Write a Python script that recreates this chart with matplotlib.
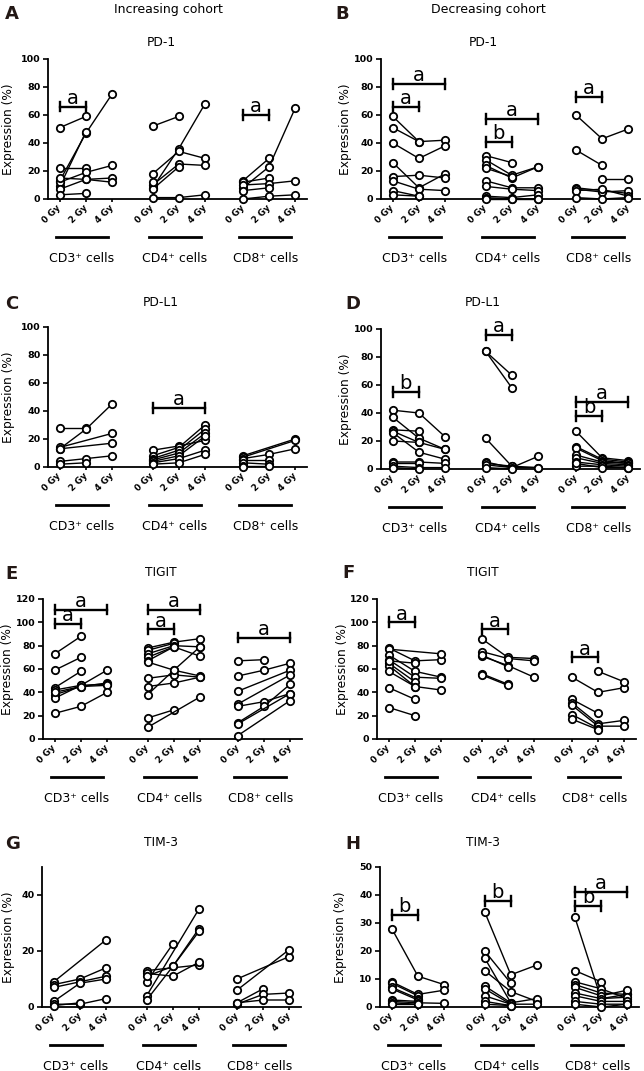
import numpy as np
import matplotlib
matplotlib.use("Agg")
import matplotlib.pyplot as plt

NA = np.nan

doses = ["0 Gy", "2 Gy", "4 Gy"]
cell_types = ["CD3⁺ cells", "CD4⁺ cells", "CD8⁺ cells"]
cohorts = ["Increasing cohort", "Decreasing cohort"]

# each row = one patient: expression at 0, 2, 4 Gy (NA = not shown)
# A  PD-1, increasing
pd1_inc_cd3 = [[51, 59, NA], [13, 47, 75], [9, 48, NA], [22, 22, NA], [12, 19, 24],
               [15, 14, 15], [7, 14, 12], [3, 4, NA]]
pd1_inc_cd4 = [[52, 59, NA], [8, 36, 68], [18, 34, 29], [10, 25, 24], [7, 23, NA],
               [12, NA, NA], [1, 1, 3]]
pd1_inc_cd8 = [[13, 29, NA], [8, 23, 65], [12, 15, NA], [10, 11, 13], [6, 8, NA], [0, 2, 3]]
# B  PD-1, decreasing
pd1_dec_cd3 = [[59, 41, 42], [51, 41, NA], [40, 29, 38], [26, 8, 18], [16, 17, 15],
               [13, 7, 6], [6, 2, NA], [3, 2, NA]]
pd1_dec_cd4 = [[31, 26, NA], [28, 17, 23], [24, 15, 23], [22, 16, NA], [13, 8, 8],
               [9, 7, 6], [2, 1, 3], [1, 0, 0], [0, 0, 0]]
pd1_dec_cd8 = [[60, 43, 50], [35, 24, NA], [NA, 14, 14], [8, 6, 4], [7, 5, 6],
               [6, 7, 2], [1, 0, 1]]
# C  PD-L1, increasing
pdl1_inc_cd3 = [[28, 28, NA], [13, 27, 45], [14, NA, 24], [13, NA, 17], [4, 6, 8], [2, 3, NA]]
pdl1_inc_cd4 = [[12, 15, 19], [8, 14, 30], [6, 12, 27], [5, 10, 24], [4, 8, 22],
                [3, 6, 12], [2, 3, 9]]
pdl1_inc_cd8 = [[8, NA, 20], [7, NA, 19], [6, 9, 13], [5, 5, NA], [3, 2, NA],
                [1, 1, NA], [0, NA, NA]]
# D  PD-L1, decreasing
pdl1_dec_cd3 = [[42, 40, 23], [37, 22, 14], [28, 27, NA], [27, 19, 14], [20, 19, NA],
                [26, 12, 7], [5, 5, 4], [4, 4, NA], [2, 1, 1], [1, 0, NA]]
pdl1_dec_cd4 = [[84, 67, NA], [84, 58, NA], [22, 2, NA], [5, 1, 9], [4, 2, 1],
                [3, 1, 1], [1, 0, NA]]
pdl1_dec_cd8 = [[27, 8, 6], [16, 7, 5], [15, 6, 4], [10, 5, 4], [8, 4, 3],
                [5, 3, 2], [2, 2, 1], [4, 1, 1]]
# E  TIGIT, increasing
tigit_inc_cd3 = [[73, 88, NA], [59, 70, NA], [44, 58, NA], [42, 46, 59], [38, 45, 48],
                 [35, 46, 47], [40, 45, 46], [22, 28, 40]]
tigit_inc_cd4 = [[78, 83, 86], [76, 82, NA], [73, 80, 79], [70, 79, NA], [67, 79, 71],
                 [66, 59, 54], [52, 55, 53], [45, 48, 53], [38, 59, 79], [18, 25, NA],
                 [10, NA, 36]]
tigit_inc_cd8 = [[67, 68, NA], [54, 59, 65], [41, NA, 59], [30, NA, 55], [28, 32, 39],
                 [14, 28, 47], [13, NA, 39], [3, NA, 33]]
# F  TIGIT, decreasing
tigit_dec_cd3 = [[78, 67, 68], [77, NA, 73], [72, 58, 53], [68, 53, 52], [65, 49, NA],
                 [63, 45, NA], [58, 45, 42], [44, 34, NA], [27, 20, NA], [67, 65, NA]]
tigit_dec_cd4 = [[86, 70, 69], [75, 69, 67], [71, 63, 53], [72, 62, NA], [56, 47, NA],
                 [55, 46, NA]]
tigit_dec_cd8 = [[53, 40, 44], [NA, 58, 49], [34, 22, NA], [31, 13, 16], [29, 11, 11],
                 [21, 9, NA], [17, 8, NA]]
# G  TIM-3, increasing
tim3_inc_cd3 = [[9, NA, 24], [8, 10, 14], [7, 9, 11], [2, 8.5, 10], [1, 1, 3], [0.5, 1.5, NA]]
tim3_inc_cd4 = [[13, NA, 15], [9, 22.5, NA], [4, NA, 35], [2.5, 14.5, 28], [12, 11, 16],
                [11, 14.5, 27]]
tim3_inc_cd8 = [[10, NA, 18], [6, NA, 20.5], [1.5, 6.5, NA], [1, 4.5, 5], [1.5, 2.5, 2.5]]
# H  TIM-3, decreasing
tim3_dec_cd3 = [[28, 11, 8], [9, 4.5, 6], [8.5, 4, NA], [7, 3, NA], [6.5, 2.5, NA],
                [2.5, 2, NA], [2, 1.5, 1.3], [1.5, 1, NA], [1, 1, NA]]
tim3_dec_cd4 = [[34, 11.5, 15], [20, 8.5, NA], [17.5, 1.5, NA], [13, 5.5, 2], [7.5, 1.5, 3],
                [6.5, 1, NA], [4, 1, 1], [2, 0.5, NA], [1, 0.5, NA]]
tim3_dec_cd8 = [[32, 3, 4.5], [13, 9, NA], [9, 6.5, 3], [8, 5, 4.5], [7, 4, 6],
                [5, 3, 3.5], [4, 2, 2], [2, 1, 1], [1, 0, 1]]

# significance brackets: (cell group, from dose, to dose, height, letter)
sig_a = [(0, 0, 1, 66, "a"), (2, 0, 1, 60, "a")]
sig_b = [(0, 0, 2, 82, "a"), (0, 0, 1, 66, "a"), (1, 0, 2, 57, "a"), (1, 0, 1, 41, "b"),
         (2, 0, 1, 73, "a")]
sig_c = [(1, 0, 2, 42, "a")]
sig_d = [(0, 0, 1, 55, "b"), (1, 0, 1, 96, "a"), (2, 0, 2, 48, "a"), (2, 0, 1, 38, "b")]
sig_e = [(0, 0, 2, 111, "a"), (0, 0, 1, 99, "a"), (1, 0, 2, 111, "a"), (1, 0, 1, 94, "a"),
         (2, 0, 2, 87, "a")]
sig_f = [(0, 0, 1, 100, "a"), (1, 0, 1, 94, "a"), (2, 0, 1, 70, "a")]
sig_g = []
sig_h = [(0, 0, 1, 33, "b"), (1, 0, 1, 38, "b"), (2, 0, 2, 41, "a"), (2, 0, 1, 36, "b")]

panels = [
    ("A", "PD-1", [pd1_inc_cd3, pd1_inc_cd4, pd1_inc_cd8], sig_a, 100, [0, 20, 40, 60, 80, 100]),
    ("B", "PD-1", [pd1_dec_cd3, pd1_dec_cd4, pd1_dec_cd8], sig_b, 100, [0, 20, 40, 60, 80, 100]),
    ("C", "PD-L1", [pdl1_inc_cd3, pdl1_inc_cd4, pdl1_inc_cd8], sig_c, 100, [0, 20, 40, 60, 80, 100]),
    ("D", "PD-L1", [pdl1_dec_cd3, pdl1_dec_cd4, pdl1_dec_cd8], sig_d, 100, [0, 20, 40, 60, 80, 100]),
    ("E", "TIGIT", [tigit_inc_cd3, tigit_inc_cd4, tigit_inc_cd8], sig_e, 120, [0, 20, 40, 60, 80, 100, 120]),
    ("F", "TIGIT", [tigit_dec_cd3, tigit_dec_cd4, tigit_dec_cd8], sig_f, 120, [0, 20, 40, 60, 80, 100, 120]),
    ("G", "TIM-3", [tim3_inc_cd3, tim3_inc_cd4, tim3_inc_cd8], sig_g, 50, [0, 20, 40]),
    ("H", "TIM-3", [tim3_dec_cd3, tim3_dec_cd4, tim3_dec_cd8], sig_h, 50, [0, 10, 20, 30, 40, 50]),
]

# layout in pixels (figure is 644 x 1071)
W, H = 644, 1071
axes_px = [(48, 199), (381, 199), (48, 467), (381, 469),
           (43, 739), (377, 739), (42, 1007), (380, 1007)]
ylabel_right = [15, 352, 15, 352, 14, 349, 15, 347]
ax_w, ax_h = 259, 140
title_y = [42, 42, 303, 303, 572, 572, 842, 842]
letter_xy = [(5, 14), (335, 14), (5, 304), (345, 304), (5, 574), (342, 573), (5, 844), (345, 844)]
group_offsets = [0, 3.55, 7.0]

fig = plt.figure(figsize=(W / 100, H / 100), dpi=100)

fig.text(168 / W, 1 - 9 / H, cohorts[0], ha="center", va="center", fontsize=9)
fig.text(488 / W, 1 - 9 / H, cohorts[1], ha="center", va="center", fontsize=9)

for k, (letter, title, groups, sigs, ymax, yticks) in enumerate(panels):
    left, bottom = axes_px[k]
    ax = fig.add_axes([left / W, 1 - bottom / H, ax_w / W, ax_h / H])

    # patient lines
    for g, rows in enumerate(groups):
        for row in rows:
            vals = np.array(row, dtype=float)
            xs = group_offsets[g] + np.arange(3)
            ok = ~np.isnan(vals)
            ax.plot(xs[ok], vals[ok], "o-", color="black", lw=1.0, ms=5.3,
                    mfc="white", mec="black", mew=1.3, clip_on=False, zorder=3)

    # significance brackets
    cap = ymax * 0.035
    for g, i0, i1, yv, lab in sigs:
        x0 = group_offsets[g] + i0
        x1 = group_offsets[g] + i1
        ax.plot([x0, x1], [yv, yv], color="black", lw=1.7, clip_on=False, zorder=4)
        ax.plot([x0, x0], [yv - cap, yv + cap], color="black", lw=1.7, clip_on=False, zorder=4)
        ax.plot([x1, x1], [yv - cap, yv + cap], color="black", lw=1.7, clip_on=False, zorder=4)
        ax.annotate(lab, ((x0 + x1) / 2, yv), xytext=(0, 2), textcoords="offset points",
                    ha="center", va="baseline", fontsize=14, annotation_clip=False)

    ax.set_xlim(-0.45, 9.45)
    ax.set_ylim(0, ymax)
    ax.set_yticks(yticks)
    ax.set_yticklabels([str(t) for t in yticks], fontsize=6.8, fontweight="bold")

    xt = [group_offsets[g] + i for g in range(3) for i in range(3)]
    ax.set_xticks(xt)
    ax.set_xticklabels(doses * 3, rotation=45, ha="right", va="center",
                       rotation_mode="anchor", fontsize=6.3, fontweight="bold")

    ax.spines["top"].set_visible(False)
    ax.spines["right"].set_visible(False)
    ax.spines["left"].set_linewidth(1.3)
    ax.spines["bottom"].set_linewidth(1.3)
    ax.tick_params(axis="both", direction="out", length=3.5, width=1.2, pad=2)
    ax.tick_params(axis="x", length=2.5, pad=3)

    # ylabel anchor is its right edge (rotated text, va='bottom')
    ax.set_ylabel("Expression (%)", fontsize=8.8)
    ax.yaxis.set_label_coords((ylabel_right[k] - left) / ax_w, 0.5)

    # group bars and cell type labels under the dose labels
    trans = ax.get_xaxis_transform()
    for g in range(3):
        x0 = group_offsets[g] - 0.15
        x1 = group_offsets[g] + 1.85
        ax.plot([x0, x1], [-38 / ax_h, -38 / ax_h], color="black", lw=2.0,
                transform=trans, clip_on=False)
        ax.text(group_offsets[g] + 0.85, -59 / ax_h, cell_types[g], transform=trans,
                ha="center", va="center", fontsize=9)

    cx = 0.25 if k % 2 == 0 else 0.75
    fig.text(cx, 1 - title_y[k] / H, title, ha="center", va="center", fontsize=8.8)
    lx, ly = letter_xy[k]
    fig.text(lx / W, 1 - ly / H, letter, ha="left", va="center", fontsize=13,
             fontweight="bold", color="#231815")

fig.savefig("out.png", dpi=100)
